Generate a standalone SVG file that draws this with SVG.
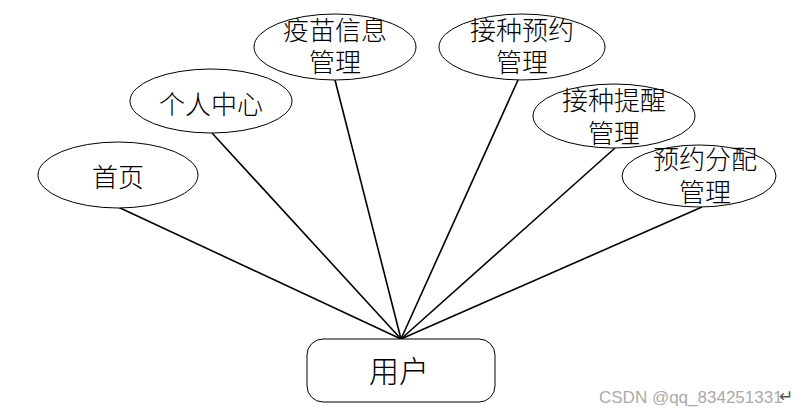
<svg xmlns="http://www.w3.org/2000/svg" width="806" height="416" viewBox="0 0 806 416">
<style>
.n{fill:#fff;stroke:#000;stroke-width:1}
.t{font-family:"Noto Sans CJK SC","Noto Sans",sans-serif;font-size:26px;font-weight:300;fill:#000;text-anchor:middle;dominant-baseline:central}
.c line{stroke:#000;stroke-width:1.6}
.w{font-family:"Liberation Sans",Arial,sans-serif;font-size:17px;fill:#aaa}
</style>
<rect width="806" height="416" fill="#fff"/>
<g class="c" id="connectors">
<line x1="401" y1="339" x2="118" y2="207"/>
<line x1="401" y1="339" x2="212" y2="133"/>
<line x1="401" y1="339" x2="335" y2="80"/>
<line x1="401" y1="339" x2="518" y2="80"/>
<line x1="401" y1="339" x2="615" y2="148"/>
<line x1="401" y1="339" x2="702" y2="207"/>
</g>
<g id="n-home"><ellipse class="n" cx="118" cy="175" rx="80" ry="33"/><text class="t" x="118" y="175">首页</text></g>
<g id="n-personal"><ellipse class="n" cx="211" cy="101" rx="81" ry="32"/><text class="t" x="211" y="102">个人中心</text></g>
<g id="n-vaccine"><ellipse class="n" cx="335" cy="47" rx="81" ry="33"/><text class="t" x="335" y="28">疫苗信息<tspan x="335" dy="32">管理</tspan></text></g>
<g id="n-booking"><ellipse class="n" cx="522" cy="47" rx="83" ry="33"/><text class="t" x="522" y="28">接种预约<tspan x="522" dy="32">管理</tspan></text></g>
<g id="n-remind"><ellipse class="n" cx="614" cy="116" rx="81" ry="32"/><text class="t" x="614" y="98">接种提醒<tspan x="614" dy="33">管理</tspan></text></g>
<g id="n-alloc"><ellipse class="n" cx="699" cy="176" rx="77" ry="31"/><text class="t" x="705" y="157">预约分配<tspan x="705" dy="33">管理</tspan></text></g>
<g id="n-user"><rect class="n" x="307" y="339" width="188" height="63" rx="16"/><text class="t" x="399" y="369" style="font-size:30px">用户</text></g>
<text class="w" x="599" y="403">CSDN @qq_834251331</text>
<text x="779" y="402" style="font-family:'DejaVu Sans',sans-serif;font-size:17px;fill:#555">↵</text>
</svg>
